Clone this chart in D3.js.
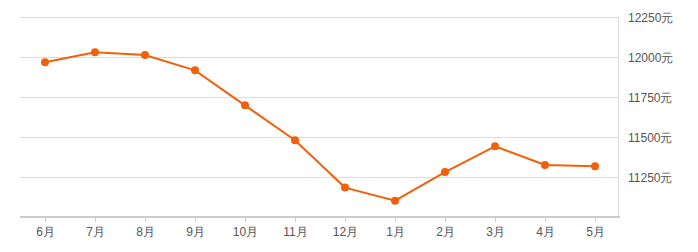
<!DOCTYPE html>
<html>
<head>
<meta charset="utf-8">
<script src="https://cdn.jsdelivr.net/npm/d3@7/dist/d3.min.js"></script>
<style>
  html, body { margin: 0; padding: 0; background: #fff; }
  svg { display: block; font-family: "Open Sans", "Noto Sans CJK SC", sans-serif; }
</style>
</head>
<body>
<div id="chart"></div>
<script>
// monthly price line, y axis on the right

var months = ['6月', '7月', '8月', '9月', '10月', '11月', '12月', '1月', '2月', '3月', '4月', '5月'];
var prices = [11973, 12036, 12019, 11923, 11704, 11486, 11190, 11108, 11287, 11448, 11331, 11323];
var yTicks = [11250, 11500, 11750, 12000, 12250];

var W = 698, H = 252;
// note: "top" is window.top, so use other names
var plotL = 20, plotR = 620, plotT = 18, plotB = 218;
var LINE = '#f2600c';

var svg = d3.select('#chart').append('svg')
  .attr('width', W)
  .attr('height', H);

var x = d3.scalePoint()
  .domain(months)
  .range([plotL, plotR])
  .padding(0.5);

var y = d3.scaleLinear()
  .domain([11000, 12250])
  .range([plotB, plotT]);

// gridlines
svg.append('g')
  .selectAll('line')
  .data(yTicks)
  .enter().append('line')
  .attr('x1', plotL)
  .attr('x2', plotR - 1)
  .attr('y1', function(d){ return Math.round(y(d)) - 0.5; })
  .attr('y2', function(d){ return Math.round(y(d)) - 0.5; })
  .attr('stroke', '#dcdcdc')
  .attr('stroke-width', 1);

// right border
svg.append('line')
  .attr('x1', plotR - 1.5).attr('x2', plotR - 1.5)
  .attr('y1', plotT - 0.5).attr('y2', plotB)
  .attr('stroke', '#dcdcdc');

// y labels (right side)
var yAxis = d3.axisRight(y)
  .tickValues(yTicks)
  .tickSize(0)
  .tickPadding(8)
  .tickFormat(function(d){ return d + '元'; });

var gy = svg.append('g')
  .attr('transform', 'translate(' + plotR + ',0)')
  .call(yAxis);
gy.select('.domain').remove();
gy.selectAll('text')
  .attr('fill', '#555')
  .style('font-size', '12px');

// x axis
var xAxis = d3.axisBottom(x)
  .tickSize(5)
  .tickPadding(5);

var gx = svg.append('g')
  .attr('transform', 'translate(0,' + (plotB - 1) + ')')
  .call(xAxis);
gx.select('.domain')
  .attr('d', 'M' + plotL + ',0H' + plotR)
  .attr('stroke', '#ccc')
  .attr('stroke-width', 2);
gx.selectAll('.tick line').attr('stroke', '#ccc');
gx.selectAll('text')
  .attr('fill', '#555')
  .style('font-size', '12px');

// line + points
var line = d3.line()
  .x(function(d, i){ return x(months[i]); })
  .y(function(d){ return y(d); });

svg.append('path')
  .datum(prices)
  .attr('fill', 'none')
  .attr('stroke', LINE)
  .attr('stroke-width', 2)
  .attr('d', line);

svg.append('g')
  .selectAll('circle')
  .data(prices)
  .enter().append('circle')
  .attr('cx', function(d, i){ return x(months[i]); })
  .attr('cy', function(d){ return y(d); })
  .attr('r', 4)
  .attr('fill', LINE);
</script>
</body>
</html>
